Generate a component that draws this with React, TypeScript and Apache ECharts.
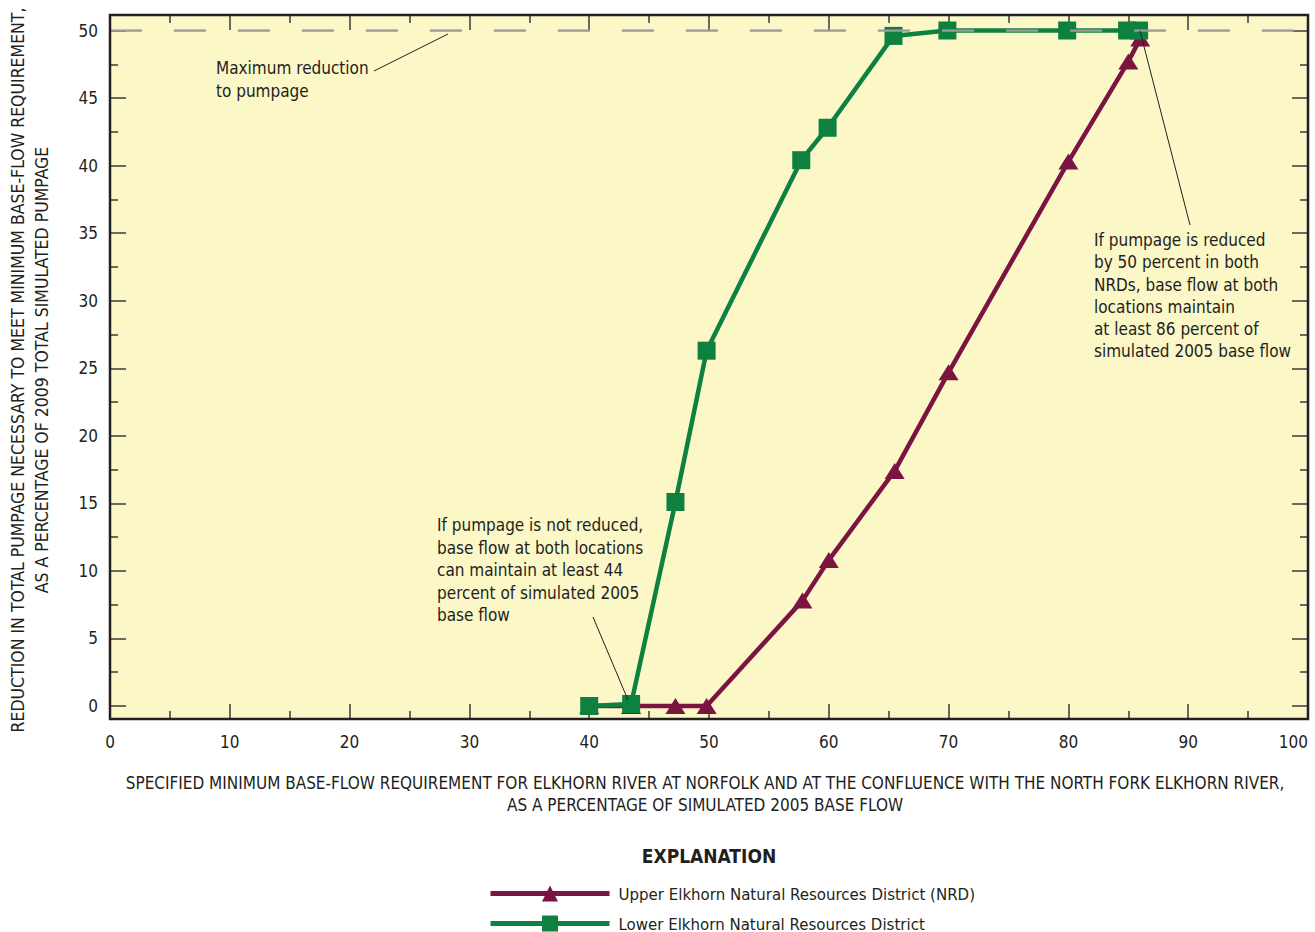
import React, { useEffect, useRef } from "react";
import * as echarts from "echarts";

const FONT = "'Liberation Sans Narrow', 'DejaVu Sans Condensed', 'Roboto', sans-serif";
const TEXT_COLOR = "#231f20";
const MAROON = "#7b1441";
const GREEN = "#0e8040";

// Data (percent)
const upperName = "Upper Elkhorn Natural Resources District (NRD)";
const lowerName = "Lower Elkhorn Natural Resources District";
const upperX = [40, 43.5, 47.2, 49.8, 57.8, 60, 65.5, 70, 80, 85, 86];
const upperY = [0, 0, 0, 0, 7.8, 10.8, 17.4, 24.7, 40.3, 47.7, 49.4];
const lowerX = [40, 43.5, 47.2, 49.8, 57.7, 59.9, 65.4, 69.9, 79.9, 84.9, 85.9];
const lowerY = [0, 0.15, 15.1, 26.3, 40.4, 42.8, 49.6, 50, 50, 50, 50];
const maxReductionX = [0, 100];
const maxReductionY = [50, 50];

const xTicks = { min: 0, max: 100, interval: 10 };
const yTicks = { min: 0, max: 50, interval: 5 };

const yTitle = [
  "REDUCTION IN TOTAL PUMPAGE NECESSARY TO MEET MINIMUM BASE-FLOW REQUIREMENT,",
  "AS A PERCENTAGE OF 2009 TOTAL SIMULATED PUMPAGE",
];
const xTitle = [
  "SPECIFIED MINIMUM BASE-FLOW REQUIREMENT FOR ELKHORN RIVER AT NORFOLK AND AT THE CONFLUENCE WITH THE NORTH FORK ELKHORN RIVER,",
  "AS A PERCENTAGE OF SIMULATED 2005 BASE FLOW",
];
const noteMax = ["Maximum reduction", "to pumpage"];
const noteLow = [
  "If pumpage is not reduced,",
  "base flow at both locations",
  "can maintain at least 44",
  "percent of simulated 2005",
  "base flow",
];
const noteHigh = [
  "If pumpage is reduced",
  "by 50 percent in both",
  "NRDs, base flow at both",
  "locations maintain",
  "at least 86 percent of",
  "simulated 2005 base flow",
];

const zip = (xs: number[], ys: number[]) => xs.map((x, i) => [x, ys[i]]);

export default function App() {
  const ref = useRef<HTMLDivElement>(null);

  useEffect(() => {
    if (!ref.current) return;
    const chart = echarts.init(ref.current, null, { renderer: "svg", width: 1315, height: 932 });

    const tickStyle = { color: "#3a3a3a", width: 1.5 };
    const baseX = {
      type: "value",
      min: xTicks.min,
      max: xTicks.max,
      interval: xTicks.interval,
      axisLine: { show: false },
      splitLine: { show: false },
      axisTick: { inside: true, length: 15, lineStyle: tickStyle },
      minorTick: { show: true, splitNumber: 2, length: 8, lineStyle: tickStyle },
    };
    const baseY = {
      type: "value",
      min: yTicks.min,
      max: yTicks.max,
      interval: yTicks.interval,
      axisLine: { show: false },
      splitLine: { show: false },
      axisTick: { inside: true, length: 16, lineStyle: tickStyle },
      minorTick: { show: true, splitNumber: 2, length: 8, lineStyle: tickStyle },
    };

    const textStyle = { fill: TEXT_COLOR, font: `17px ${FONT}` };
    const legendBase = {
      orient: "vertical",
      left: 488,
      itemWidth: 119,
      itemHeight: 20,
      padding: 0,
      selectedMode: false,
      lineStyle: { width: 5 },
      textStyle: { color: TEXT_COLOR, fontSize: 16.7, fontFamily: FONT, padding: [0, 0, 0, 4] },
    };

    chart.setOption({
      animation: false,
      textStyle: { fontFamily: FONT },
      grid: [
        // data grid: y = 0..50
        { left: 110, right: 7, top: 30.5, bottom: 226, containLabel: false, outerBoundsMode: "none" },
        // frame grid: carries the x axes on the frame edges
        { left: 110, right: 7, top: 15, bottom: 213, containLabel: false, outerBoundsMode: "none" },
      ],
      xAxis: [
        { ...baseX, gridIndex: 0, show: false },
        {
          ...baseX,
          gridIndex: 1,
          position: "bottom",
          axisLabel: {
            show: true,
            color: TEXT_COLOR,
            fontSize: 17,
            fontFamily: FONT,
            margin: 14,
            alignMaxLabel: "right",
          },
        },
        {
          ...baseX,
          gridIndex: 1,
          position: "top",
          axisLabel: { show: false },
        },
      ],
      yAxis: [
        {
          ...baseY,
          gridIndex: 0,
          position: "left",
          axisLabel: { show: true, color: TEXT_COLOR, fontSize: 17, fontFamily: FONT, margin: 12 },
        },
        {
          ...baseY,
          gridIndex: 0,
          position: "right",
          axisLabel: { show: false },
        },
        { type: "value", gridIndex: 1, min: 0, max: 1, show: false },
      ],
      legend: [
        { ...legendBase, data: [upperName], top: 885 },
        { ...legendBase, data: [lowerName], top: 915 },
      ],
      series: [
        {
          name: upperName,
          type: "line",
          xAxisIndex: 0,
          yAxisIndex: 0,
          data: zip(upperX, upperY),
          symbol: "triangle",
          symbolSize: [20, 16],
          clip: false,
          color: MAROON,
          itemStyle: { color: MAROON },
          lineStyle: { color: MAROON, width: 4.5 },
          z: 3,
        },
        {
          name: lowerName,
          type: "line",
          xAxisIndex: 0,
          yAxisIndex: 0,
          data: zip(lowerX, lowerY),
          symbol: "rect",
          symbolSize: 18,
          clip: false,
          color: GREEN,
          itemStyle: { color: GREEN },
          lineStyle: { color: GREEN, width: 4.5 },
          z: 4,
        },
        {
          name: "Maximum reduction to pumpage",
          type: "line",
          xAxisIndex: 0,
          yAxisIndex: 0,
          data: zip(maxReductionX, maxReductionY),
          symbol: "none",
          silent: true,
          lineStyle: { color: "#9a9a9a", width: 2.5, type: [32, 32] },
          z: 5,
        },
      ],
      graphic: {
        elements: [
          {
            type: "rect",
            z: -10,
            silent: true,
            shape: { x: 110, y: 15, width: 1198, height: 704 },
            style: { fill: "#fbf7c7" },
          },
          {
            type: "rect",
            z: 20,
            silent: true,
            shape: { x: 110, y: 15, width: 1198, height: 704 },
            style: { fill: "none", stroke: TEXT_COLOR, lineWidth: 2.5 },
          },
          // leader lines
          {
            type: "line",
            z: 20,
            silent: true,
            shape: { x1: 374, y1: 71, x2: 448, y2: 34 },
            style: { stroke: TEXT_COLOR, lineWidth: 1 },
          },
          {
            type: "line",
            z: 20,
            silent: true,
            shape: { x1: 593, y1: 617, x2: 628, y2: 700 },
            style: { stroke: TEXT_COLOR, lineWidth: 1 },
          },
          {
            type: "line",
            z: 20,
            silent: true,
            shape: { x1: 1140, y1: 31, x2: 1190, y2: 225 },
            style: { stroke: TEXT_COLOR, lineWidth: 1 },
          },
          // notes
          {
            type: "text",
            z: 20,
            x: 216,
            y: 57,
            style: { ...textStyle, text: noteMax.join("\n"), lineHeight: 22.4, textAlign: "left", textVerticalAlign: "top" },
          },
          {
            type: "text",
            z: 20,
            x: 437,
            y: 514,
            style: { ...textStyle, text: noteLow.join("\n"), lineHeight: 22.5, textAlign: "left", textVerticalAlign: "top" },
          },
          {
            type: "text",
            z: 20,
            x: 1094,
            y: 229,
            style: { ...textStyle, text: noteHigh.join("\n"), lineHeight: 22.2, textAlign: "left", textVerticalAlign: "top" },
          },
          // axis titles
          {
            type: "text",
            z: 20,
            x: 30,
            y: 370,
            rotation: Math.PI / 2,
            style: { ...textStyle, font: `17.5px ${FONT}`, text: yTitle.join("\n"), lineHeight: 24, textAlign: "center", textVerticalAlign: "middle" },
          },
          {
            type: "text",
            z: 20,
            x: 705,
            y: 794,
            style: { ...textStyle, font: `17px ${FONT}`, text: xTitle.join("\n"), lineHeight: 22, textAlign: "center", textVerticalAlign: "middle" },
          },
          {
            type: "text",
            z: 20,
            x: 709,
            y: 856,
            style: { ...textStyle, font: `bold 19px ${FONT}`, text: "EXPLANATION", textAlign: "center", textVerticalAlign: "middle" },
          },
        ],
      },
    });

    return () => chart.dispose();
  }, []);

  return (
    <div
      ref={ref}
      style={{ position: "absolute", left: 0, top: 0, width: 1315, height: 932, overflow: "hidden" }}
    />
  );
}
